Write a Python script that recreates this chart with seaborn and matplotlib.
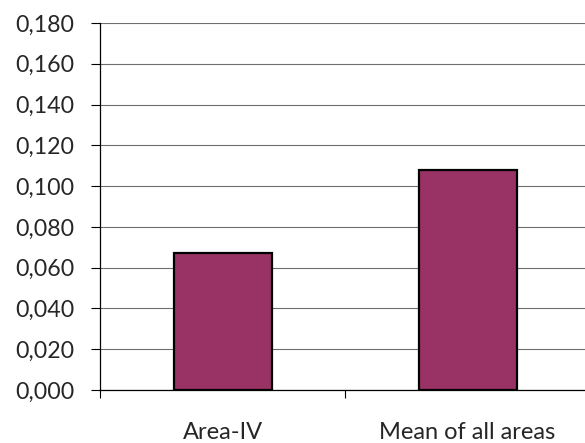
import pandas as pd
import matplotlib
matplotlib.use('Agg')
import matplotlib.pyplot as plt
from matplotlib.ticker import FuncFormatter, MultipleLocator, FixedLocator
import seaborn as sns

# 数据
categories = ['Area-IV', 'Mean of all areas']
values = [0.067, 0.108]
bar_color = '#993366'

sns.set_theme(style='white')
plt.rcParams['font.family'] = ['Lato', 'DejaVu Sans']

df = pd.DataFrame({'cat': categories, 'val': values})

fig = plt.figure(figsize=(5.85, 4.43), dpi=100)
ax = fig.add_axes([100 / 585, 1 - 390 / 443, 490 / 585, (390 - 23) / 443])

sns.barplot(data=df, x='cat', y='val', color=bar_color, saturation=1,
            width=0.4, edgecolor='black', linewidth=1.6, ax=ax, zorder=3)

ax.set_ylim(0, 0.18)
ax.set_xlim(-0.5, 1.5)
ax.yaxis.set_major_locator(MultipleLocator(0.02))
ax.yaxis.set_major_formatter(FuncFormatter(lambda v, p: f'{v:.3f}'.replace('.', ',')))
ax.grid(axis='y', color='#6e6e6e', linewidth=0.8, zorder=0)
ax.set_axisbelow(True)

# 分类边界处的刻度
ax.xaxis.set_minor_locator(FixedLocator([-0.5, 0.5, 1.5]))
ax.tick_params(axis='x', which='major', length=0, pad=23, labelsize=17)
ax.tick_params(axis='x', which='minor', length=6, width=0.8, color='black', direction='out', bottom=True)
ax.tick_params(axis='y', length=6.5, width=0.8, color='black', direction='out', left=True,
               pad=12, labelsize=16.7)

for s in ['top', 'right']:
    ax.spines[s].set_visible(False)
for s in ['left', 'bottom']:
    ax.spines[s].set_color('black')
    ax.spines[s].set_linewidth(0.9)

ax.set_xlabel('')
ax.set_ylabel('')

fig.savefig('out.png', dpi=100)
